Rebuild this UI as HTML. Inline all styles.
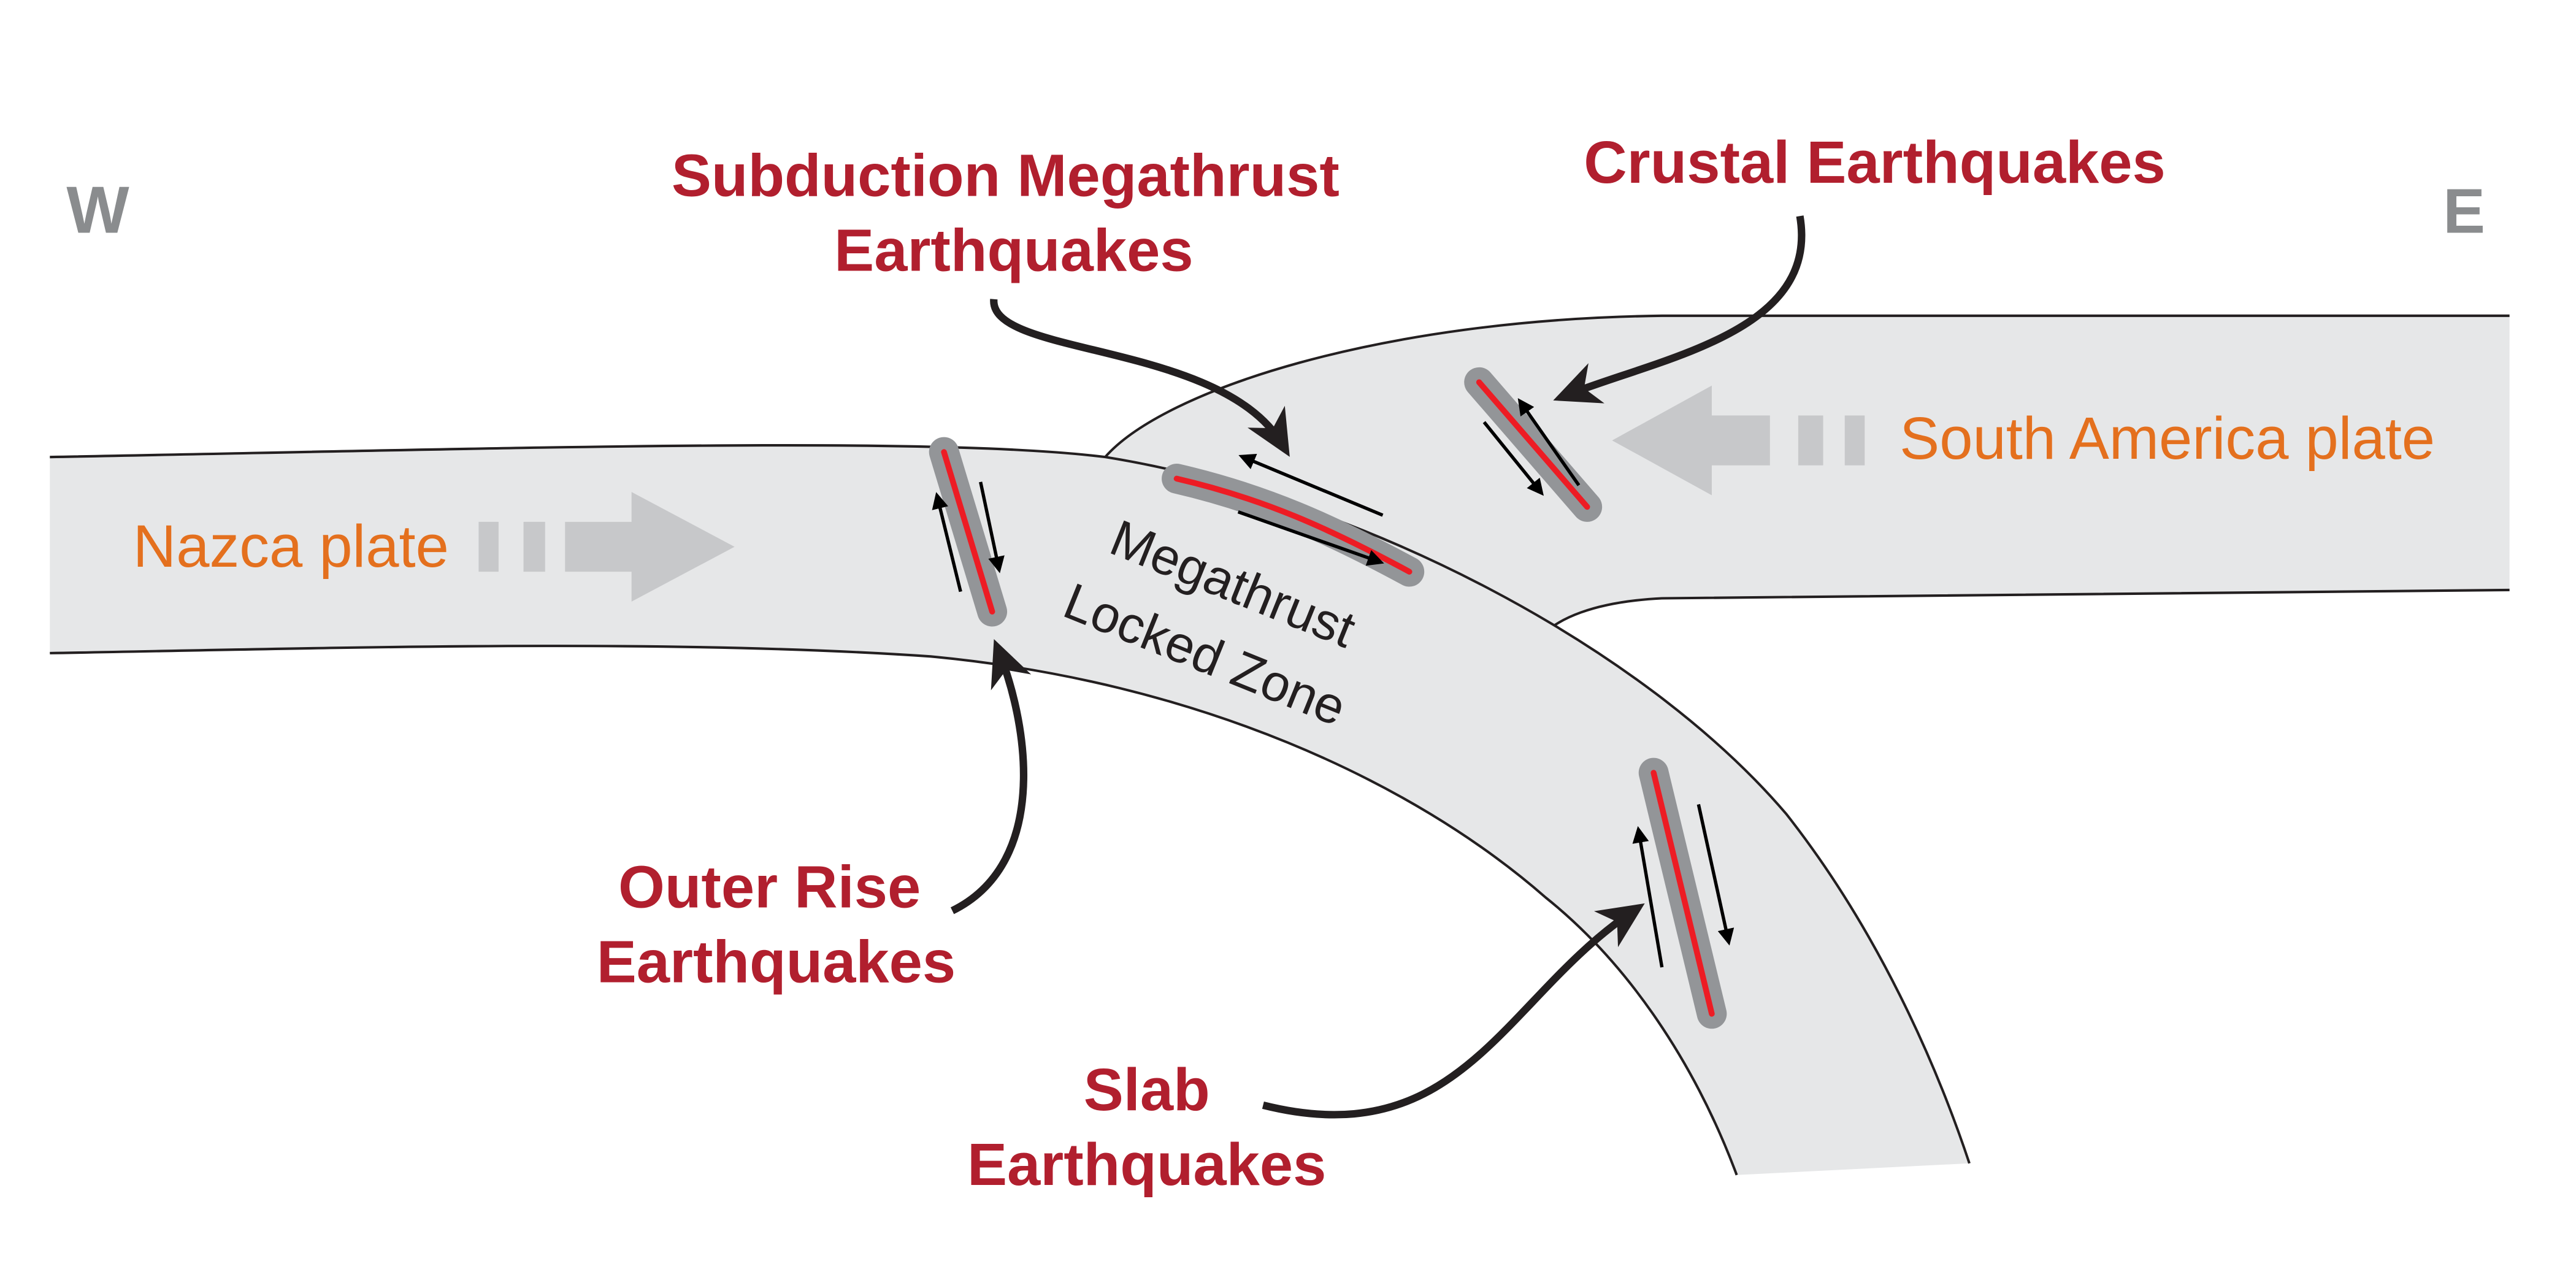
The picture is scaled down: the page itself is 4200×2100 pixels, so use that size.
<!DOCTYPE html>
<html><head><meta charset="utf-8"><style>
html,body{margin:0;padding:0;background:#fff}
svg{display:block}
text{font-family:"Liberation Sans",sans-serif}
.r{fill:#b11f2e;font-weight:bold;font-size:36px;text-anchor:middle}
.o{fill:#e4701e;font-size:36px}
</style></head><body>
<svg width="4200" height="2100" viewBox="0 0 1550 775" xmlns="http://www.w3.org/2000/svg">
<defs>
<marker id="ah" markerWidth="10" markerHeight="10" refX="7" refY="5" orient="auto" markerUnits="userSpaceOnUse" viewBox="0 0 10 10">
<path d="M0,0 L10,5 L0,10 z" fill="#000"/></marker>
<marker id="bh" markerWidth="30" markerHeight="30" refX="20" refY="15" orient="auto" markerUnits="userSpaceOnUse" viewBox="0 0 30 30">
<path d="M0,2 L28,15 L0,28 L8,15 z" fill="#231f20"/></marker>
</defs>
<rect width="1550" height="775" fill="#fff"/>
<path d="M665,275 C700,235 830,192 1000,190 L1510,190 L1510,355 L1000,360 C960,362 935,372 925,386 L870,360 C800,320 720,290 665,275 Z" fill="#e6e7e8" stroke="none"/>
<path d="M665,275 C700,235 830,192 1000,190 L1510,190 M1510,355 L1000,360 C960,362 935,372 925,386" fill="none" stroke="#231f20" stroke-width="1.5"/>
<path d="M30,275 C300,270 560,262 665,275 C820,300 990,390 1075,490 C1130,560 1165,640 1185,700 L1045,707 C1020,640 980,580 930,540 C850,470 720,410 560,395 C400,384 200,390 30,393 Z" fill="#e6e7e8"/>
<path d="M30,275 C300,270 560,262 665,275 C820,300 990,390 1075,490 C1130,560 1165,640 1185,700 M1045,707 C1020,640 980,580 930,540 C850,470 720,410 560,395 C400,384 200,390 30,393" fill="none" stroke="#231f20" stroke-width="1.5"/>
<g fill="#c7c8ca">
<rect x="288" y="314" width="12" height="30"/><rect x="315" y="314" width="13" height="30"/>
<path d="M340,314 L380,314 L380,296 L442,329 L380,362 L380,344 L340,344 Z"/>
<path d="M1065,250 L1030,250 L1030,232 L970,265 L1030,298 L1030,280 L1065,280 Z"/>
<rect x="1082" y="250" width="15" height="30"/><rect x="1110" y="250" width="12" height="30"/>
</g>
<g stroke-linecap="round" fill="none">
<g stroke="#939598" stroke-width="18">
<path d="M568,272 L597,368"/><path d="M708,288 C760,300 800,318 848,344"/><path d="M890,230 L955,305"/><path d="M995,465 L1030,610"/>
</g>
<g stroke="#ed1c24" stroke-width="3.5">
<path d="M568,272 L597,368"/><path d="M708,288 C760,300 800,318 848,344"/><path d="M890,230 L955,305"/><path d="M995,465 L1030,610"/>
</g>
</g>
<g stroke="#000" stroke-width="2" fill="none" marker-end="url(#ah)">
<path d="M578,356 L564,299"/><path d="M590,290 L601,342"/>
<path d="M832,310 L748,275"/><path d="M745,308 L830,338"/>
<path d="M950,292 L915,242"/><path d="M893,254 L927,296"/>
<path d="M1000,582 L986,500"/><path d="M1022,484 L1040,566"/>
</g>
<g stroke="#231f20" stroke-width="4.5" fill="none" marker-end="url(#bh)">
<path d="M598,180 C595,215 735,205 772,268"/>
<path d="M1083,130 C1095,200 1000,215 942,238"/>
<path d="M573,548 C630,520 620,440 601,392"/>
<path d="M760,665 C880,695 905,600 983,548"/>
</g>
<text x="40" y="140" font-size="40" font-weight="bold" fill="#8a8c8e">W</text>
<text x="1470" y="140" font-size="38" font-weight="bold" fill="#8a8c8e">E</text>
<text class="r" x="605" y="118">Subduction Megathrust</text>
<text class="r" x="610" y="163">Earthquakes</text>
<text class="r" x="1128" y="110">Crustal Earthquakes</text>
<text class="r" x="463" y="546">Outer Rise</text>
<text class="r" x="467" y="591">Earthquakes</text>
<text class="r" x="690" y="668">Slab</text>
<text class="r" x="690" y="713">Earthquakes</text>
<text class="o" x="80" y="341">Nazca plate</text>
<text class="o" x="1143" y="276">South America plate</text>
<g font-size="31" fill="#231f20">
<text transform="translate(666,332) rotate(22)">Megathrust</text>
<text transform="translate(638,370) rotate(22)">Locked Zone</text>
</g>
</svg>
</body></html>
